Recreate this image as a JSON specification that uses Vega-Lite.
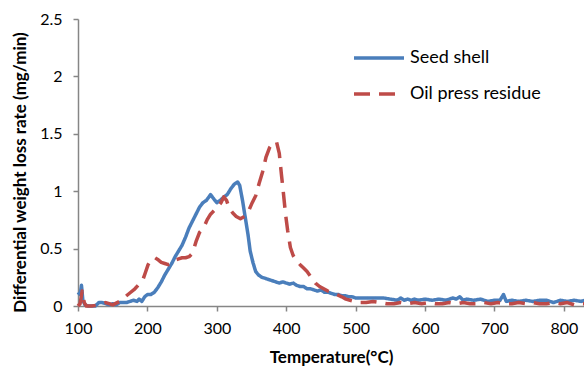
{
  "$schema": "https://vega.github.io/schema/vega-lite/v6.json",
  "autosize": "none",
  "width": 506,
  "height": 287,
  "padding": {"left": 78, "top": 19, "right": 0, "bottom": 61},
  "background": "white",
  "config": {
    "font": "Lato",
    "view": {"stroke": null},
    "axis": {"grid": false, "domainColor": "#868686", "tickColor": "#868686", "domainWidth": 1.5, "tickWidth": 1.5, "labelColor": "#000", "titleColor": "#000", "labelFont": "Lato", "titleFont": "Lato", "labelFontSize": 16, "titleFontSize": 16, "titleFontWeight": "bold", "labelFlush": false}
  },
  "datasets": {
    "seed": [
      {"T":100,"v":0.12},{"T":103,"v":0.1},{"T":105,"v":0.18},{"T":107,"v":0.05},{"T":110,"v":0.01},{"T":115,"v":0},{"T":120,"v":0},{"T":125,"v":0},{"T":130,"v":0.03},{"T":135,"v":0.03},{"T":140,"v":0.02},{"T":145,"v":0.01},{"T":150,"v":0.02},{"T":155,"v":0.01},{"T":160,"v":0.03},{"T":165,"v":0.03},{"T":170,"v":0.03},{"T":175,"v":0.04},{"T":180,"v":0.05},{"T":185,"v":0.04},{"T":188,"v":0.06},{"T":192,"v":0.04},{"T":196,"v":0.08},{"T":200,"v":0.1},{"T":205,"v":0.1},{"T":210,"v":0.12},{"T":215,"v":0.16},{"T":220,"v":0.21},{"T":225,"v":0.27},{"T":230,"v":0.32},{"T":235,"v":0.37},{"T":240,"v":0.43},{"T":245,"v":0.48},{"T":250,"v":0.53},{"T":255,"v":0.6},{"T":260,"v":0.68},{"T":265,"v":0.74},{"T":270,"v":0.8},{"T":275,"v":0.86},{"T":280,"v":0.9},{"T":285,"v":0.92},{"T":291,"v":0.97},{"T":296,"v":0.93},{"T":300,"v":0.9},{"T":305,"v":0.92},{"T":310,"v":0.95},{"T":315,"v":0.97},{"T":320,"v":1.02},{"T":325,"v":1.06},{"T":330,"v":1.08},{"T":333,"v":1.05},{"T":337,"v":0.92},{"T":341,"v":0.77},{"T":345,"v":0.62},{"T":348,"v":0.48},{"T":352,"v":0.38},{"T":356,"v":0.3},{"T":360,"v":0.27},{"T":365,"v":0.25},{"T":370,"v":0.24},{"T":375,"v":0.23},{"T":380,"v":0.22},{"T":385,"v":0.21},{"T":390,"v":0.2},{"T":395,"v":0.21},{"T":400,"v":0.2},{"T":405,"v":0.19},{"T":410,"v":0.2},{"T":415,"v":0.18},{"T":420,"v":0.17},{"T":425,"v":0.17},{"T":430,"v":0.15},{"T":435,"v":0.15},{"T":440,"v":0.14},{"T":445,"v":0.13},{"T":450,"v":0.14},{"T":455,"v":0.12},{"T":460,"v":0.12},{"T":465,"v":0.11},{"T":470,"v":0.1},{"T":475,"v":0.1},{"T":480,"v":0.09},{"T":485,"v":0.09},{"T":490,"v":0.08},{"T":495,"v":0.08},{"T":500,"v":0.07},{"T":510,"v":0.07},{"T":520,"v":0.07},{"T":530,"v":0.07},{"T":540,"v":0.07},{"T":550,"v":0.06},{"T":560,"v":0.05},{"T":565,"v":0.07},{"T":570,"v":0.05},{"T":575,"v":0.06},{"T":580,"v":0.05},{"T":585,"v":0.06},{"T":590,"v":0.05},{"T":600,"v":0.06},{"T":610,"v":0.05},{"T":620,"v":0.06},{"T":630,"v":0.05},{"T":640,"v":0.07},{"T":645,"v":0.06},{"T":650,"v":0.08},{"T":655,"v":0.05},{"T":660,"v":0.06},{"T":670,"v":0.05},{"T":680,"v":0.06},{"T":690,"v":0.04},{"T":700,"v":0.05},{"T":708,"v":0.05},{"T":713,"v":0.1},{"T":717,"v":0.04},{"T":725,"v":0.05},{"T":735,"v":0.04},{"T":745,"v":0.05},{"T":755,"v":0.04},{"T":765,"v":0.05},{"T":775,"v":0.05},{"T":785,"v":0.03},{"T":795,"v":0.05},{"T":805,"v":0.04},{"T":815,"v":0.05},{"T":825,"v":0.04},{"T":830,"v":0.05}
    ],
    "oil": [
      {"T":100,"v":0.0},{"T":103,"v":0.02},{"T":106,"v":0.13},{"T":109,"v":0.03},{"T":112,"v":0},{"T":120,"v":0},{"T":130,"v":0.01},{"T":140,"v":0.03},{"T":145,"v":0.02},{"T":150,"v":0.01},{"T":160,"v":0.04},{"T":166,"v":0.07},{"T":172,"v":0.1},{"T":176,"v":0.12},{"T":182,"v":0.15},{"T":188,"v":0.19},{"T":193,"v":0.22},{"T":197,"v":0.29},{"T":201,"v":0.36},{"T":206,"v":0.41},{"T":211,"v":0.42},{"T":216,"v":0.4},{"T":220,"v":0.38},{"T":225,"v":0.37},{"T":230,"v":0.36},{"T":235,"v":0.37},{"T":240,"v":0.4},{"T":245,"v":0.41},{"T":250,"v":0.42},{"T":255,"v":0.42},{"T":260,"v":0.43},{"T":265,"v":0.46},{"T":270,"v":0.56},{"T":275,"v":0.64},{"T":281,"v":0.68},{"T":286,"v":0.75},{"T":291,"v":0.8},{"T":296,"v":0.83},{"T":301,"v":0.86},{"T":306,"v":0.9},{"T":310,"v":0.95},{"T":314,"v":0.92},{"T":318,"v":0.85},{"T":323,"v":0.81},{"T":328,"v":0.78},{"T":334,"v":0.76},{"T":340,"v":0.78},{"T":346,"v":0.83},{"T":351,"v":0.9},{"T":356,"v":0.96},{"T":361,"v":1.07},{"T":366,"v":1.17},{"T":371,"v":1.3},{"T":376,"v":1.38},{"T":381,"v":1.42},{"T":386,"v":1.43},{"T":390,"v":1.33},{"T":393,"v":1.15},{"T":396,"v":0.98},{"T":399,"v":0.8},{"T":402,"v":0.66},{"T":406,"v":0.51},{"T":410,"v":0.44},{"T":414,"v":0.4},{"T":420,"v":0.36},{"T":425,"v":0.33},{"T":430,"v":0.3},{"T":436,"v":0.25},{"T":442,"v":0.2},{"T":448,"v":0.17},{"T":454,"v":0.15},{"T":460,"v":0.13},{"T":466,"v":0.12},{"T":473,"v":0.1},{"T":480,"v":0.08},{"T":486,"v":0.06},{"T":492,"v":0.05},{"T":498,"v":0.04},{"T":505,"v":0.03},{"T":515,"v":0.03},{"T":525,"v":0.04},{"T":535,"v":0.03},{"T":545,"v":0.02},{"T":555,"v":0.02},{"T":565,"v":0.03},{"T":575,"v":0.02},{"T":585,"v":0.03},{"T":595,"v":0.02},{"T":605,"v":0.03},{"T":615,"v":0.02},{"T":625,"v":0.02},{"T":635,"v":0.03},{"T":645,"v":0.02},{"T":655,"v":0.03},{"T":665,"v":0.02},{"T":675,"v":0.02},{"T":685,"v":0.03},{"T":695,"v":0.02},{"T":705,"v":0.03},{"T":715,"v":0.02},{"T":725,"v":0.02},{"T":735,"v":0.03},{"T":745,"v":0.02},{"T":755,"v":0.03},{"T":765,"v":0.02},{"T":775,"v":0.02},{"T":785,"v":0.03},{"T":795,"v":0.02},{"T":805,"v":0.03},{"T":815,"v":0.01},{"T":825,"v":0.02},{"T":830,"v":0.02}
    ]
  },
  "encoding": {
    "x": {"field": "T", "type": "quantitative", "title": "Temperature(°C)",
      "scale": {"domain": [100, 829], "nice": false, "zero": false},
      "axis": {"values": [100,200,300,400,500,600,700,800], "format": "d", "tickSize": 5, "labelPadding": 9, "titlePadding": 13, "titleFontSize": 17}},
    "y": {"field": "v", "type": "quantitative", "title": "Differential weight loss rate (mg/min)",
      "scale": {"domain": [0, 2.5], "nice": false},
      "axis": {"values": [0,0.5,1,1.5,2,2.5], "format": "~g", "tickSize": 5, "labelPadding": 11, "titlePadding": 10, "titleY": 153, "titleFontSize": 17}},
    "color": {"field": "series", "type": "nominal", "title": null,
      "scale": {"domain": ["Seed shell", "Oil press residue"], "range": ["#4A7EBB", "#BE4B48"]},
      "legend": {"orient": "none", "legendX": 274, "legendY": 12, "symbolType": "stroke", "symbolSize": 2500, "symbolStrokeWidth": 3.5, "labelFontSize": 18, "labelFont": "Lato", "labelColor": "#000", "labelOffset": 4, "rowPadding": 0, "padding": 0, "labelLimit": 300}},
    "strokeDash": {"field": "series", "type": "nominal", "title": null,
      "scale": {"domain": ["Seed shell", "Oil press residue"], "range": [[1, 0], [16, 9]]}}
  },
  "layer": [
    {"data": {"name": "seed"}, "transform": [{"calculate": "'Seed shell'", "as": "series"}],
     "mark": {"type": "line", "strokeWidth": 3.5, "strokeJoin": "round"}},
    {"data": {"name": "oil"}, "transform": [{"calculate": "'Oil press residue'", "as": "series"}],
     "mark": {"type": "line", "strokeWidth": 3.5, "strokeJoin": "round"}}
  ]
}
